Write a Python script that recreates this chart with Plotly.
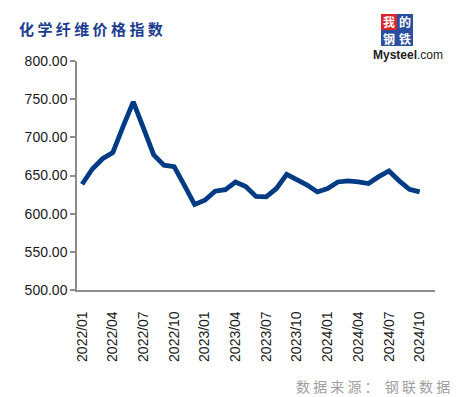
import plotly.graph_objects as go

months = ["2022/01","2022/02","2022/03","2022/04","2022/05","2022/06","2022/07","2022/08","2022/09","2022/10","2022/11","2022/12",
          "2023/01","2023/02","2023/03","2023/04","2023/05","2023/06","2023/07","2023/08","2023/09","2023/10","2023/11","2023/12",
          "2024/01","2024/02","2024/03","2024/04","2024/05","2024/06","2024/07","2024/08","2024/09","2024/10"]
values = [638.5, 658.5, 672.0, 680.0, 714.0, 746.5, 712.0, 677.0, 663.5, 661.5, 637.0, 612.0,
          617.5, 629.5, 631.5, 641.5, 635.5, 622.5, 622.0, 633.0, 651.5, 645.0, 637.5, 628.5,
          633.0, 641.5, 643.0, 641.5, 639.5, 648.5, 656.0, 643.0, 632.0, 628.5]
y_ticks = [500, 550, 600, 650, 700, 750, 800]
title_text = "化 学 纤 维 价 格 指 数"
source_text = "数 据 来 源 ：  钢 联 数 据"

idx = list(range(len(months)))
label_idx = idx[::3]
label_text = [months[i] for i in label_idx]
bound_vals = [i - 0.5 for i in label_idx]

fig = go.Figure()
fig.add_trace(go.Scatter(x=idx, y=values, mode="lines",
                         line=dict(color="#003b84", width=4.8), hoverinfo="skip"))

axis_gray = "#8c8c8c"
fig.update_layout(
    width=458, height=397, autosize=False,
    margin=dict(l=77, r=23, t=61, b=107),
    paper_bgcolor="white", plot_bgcolor="white",
    showlegend=False,
    font=dict(family="Liberation Sans, Arial, sans-serif", size=14, color="#1a1a1a"),
    xaxis=dict(range=[-0.5, 34.5], tickmode="array", tickvals=label_idx, ticktext=label_text,
               tickangle=-90, ticks="", showline=True, linecolor=axis_gray, linewidth=1.5,
               showgrid=False, zeroline=False, ticklabelstandoff=14, automargin=False,
               tickfont=dict(size=14, color="#1a1a1a")),
    xaxis2=dict(range=[-0.5, 34.5], overlaying="x", anchor="y", side="bottom",
                tickmode="array", tickvals=bound_vals, ticks="outside", ticklen=5,
                tickcolor=axis_gray, tickwidth=1.5, showticklabels=False, showgrid=False,
                zeroline=False, showline=False, automargin=False),
    yaxis=dict(range=[500, 800], tickmode="array", tickvals=y_ticks, tickformat=".2f",
               ticks="outside", ticklen=5, tickcolor=axis_gray, tickwidth=1.5,
               showline=True, linecolor=axis_gray, linewidth=1.5, showgrid=False,
               zeroline=False, automargin=False, tickfont=dict(size=14, color="#1a1a1a")),
)

# helpers: pixel -> paper coords (plot area x0=77, w=358; bottom=290, h=229)
def px(xp):
    return (xp - 77) / 358
def py(yp):
    return (290 - yp) / 229

# title
fig.add_annotation(text="<b>" + title_text + "</b>", xref="paper", yref="paper",
                   x=px(17), y=py(28), xanchor="left", yanchor="middle", showarrow=False,
                   font=dict(family="Noto Sans CJK SC", size=15, color="#1c3d8f"))

# source
fig.add_annotation(text=source_text, xref="paper", yref="paper",
                   x=px(452), y=py(386), xanchor="right", yanchor="middle", showarrow=False,
                   font=dict(family="Noto Sans CJK SC", size=14, color="#a0a0a0"))

# logo
boxes = [(381, 14, 397, 30, "#d8262b", "我"), (397, 14, 413, 30, "#2a4f9e", "的"),
         (381, 30, 397, 46, "#2a4f9e", "钢"), (397, 30, 413, 46, "#2a4f9e", "铁")]
for x0, y0, x1, y1, c, ch in boxes:
    fig.add_shape(type="rect", xref="paper", yref="paper", x0=px(x0), x1=px(x1),
                  y0=py(y1), y1=py(y0), fillcolor=c, line=dict(width=0))
    fig.add_annotation(text="<b>" + ch + "</b>", xref="paper", yref="paper",
                       x=px((x0 + x1) / 2), y=py((y0 + y1) / 2), showarrow=False,
                       xanchor="center", yanchor="middle", borderpad=0,
                       font=dict(family="Noto Sans CJK SC", size=12, color="white"))
fig.add_annotation(text="<b>Mysteel</b>.com", xref="paper", yref="paper",
                   x=px(408), y=py(55), showarrow=False, xanchor="center", yanchor="middle",
                   borderpad=0,
                   font=dict(family="Liberation Sans", size=12, color="#222222"))

fig.write_html("out.html", config={"displayModeBar": False},
               post_script="document.body.style.margin='0';document.body.style.overflow='hidden';")
